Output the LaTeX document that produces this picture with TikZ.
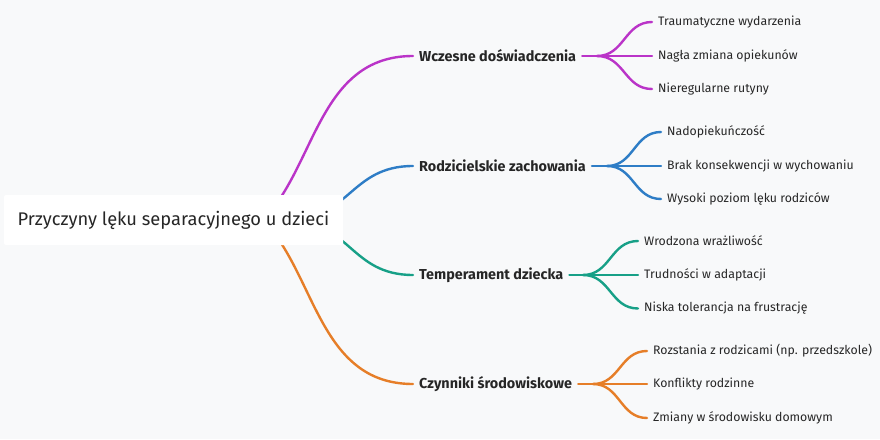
\documentclass[tikz,border=0pt]{standalone}
\usepackage{fontspec}
\setmainfont{Fira Sans}
\usetikzlibrary{calc}
\pgfdeclarelayer{background}
\pgfsetlayers{background,main}
\definecolor{bgc}{RGB}{248,249,250}
\definecolor{txt}{RGB}{38,38,38}
\definecolor{cpur}{RGB}{186,52,200}
\definecolor{cblu}{RGB}{46,125,198}
\definecolor{ctea}{RGB}{23,160,135}
\definecolor{cora}{RGB}{230,126,40}
\tikzset{
  hcurve/.style={to path={let \p1=(\tikztostart), \p2=(\tikztotarget) in
     .. controls ({(\x1+\x2)/2},\y1) and ({(\x1+\x2)/2},\y2) .. (\tikztotarget)}},
  link/.style={line width=2.4pt, line cap=round},
  rootbox/.style={fill=white, rounded corners=2pt, minimum width=339pt, minimum height=50pt,
     inner sep=0pt, font=\fontsize{18.3}{21}\selectfont, text=txt},
  branch/.style={anchor=west, inner xsep=6pt, inner ysep=2pt, font=\bfseries\fontsize{14.4}{17}\selectfont, text=txt},
  leaf/.style={anchor=west, inner xsep=6pt, inner ysep=2pt, font=\fontsize{12.3}{15}\selectfont, text=txt}
}
\begin{document}
\begin{tikzpicture}[x=1pt,y=-1pt]
\useasboundingbox (0,0) rectangle (880,439);

\node[rootbox] (root) at (173.5,220) {Przyczyny lęku separacyjnego u dzieci};

\node[branch] (b1) at (413,56) {Wczesne doświadczenia};
\node[branch] (b2) at (413,166) {Rodzicielskie zachowania};
\node[branch] (b3) at (413,275) {Temperament dziecka};
\node[branch] (b4) at (413,384) {Czynniki środowiskowe};

\coordinate (f1) at (597,56);
\coordinate (f2) at (607,166);
\coordinate (f3) at (583,275);
\coordinate (f4) at (593,384);

\node[leaf] (c11) at (652,22) {Traumatyczne wydarzenia};
\node[leaf] (c12) at (652,56) {Nagła zmiana opiekunów};
\node[leaf] (c13) at (652,89) {Nieregularne rutyny};
\node[leaf] (c21) at (661,132) {Nadopiekuńczość};
\node[leaf] (c22) at (661,166) {Brak konsekwencji w wychowaniu};
\node[leaf] (c23) at (661,199) {Wysoki poziom lęku rodziców};
\node[leaf] (c31) at (638,241) {Wrodzona wrażliwość};
\node[leaf] (c32) at (638,275) {Trudności w adaptacji};
\node[leaf] (c33) at (638,308.5) {Niska tolerancja na frustrację};
\node[leaf] (c41) at (647,351) {Rozstania z rodzicami (np. przedszkole)};
\node[leaf] (c42) at (647,384) {Konflikty rodzinne};
\node[leaf] (c43) at (647,418) {Zmiany w środowisku domowym};

\coordinate (r1) at (281,197);
\coordinate (r2) at (287,220);
\coordinate (r3) at (287,220);
\coordinate (r4) at (281,243);

\begin{pgfonlayer}{background}
\fill[bgc] (0,0) rectangle (880,439);
\draw[link,cpur] (r1) .. controls (318,140) and (330.5,56) .. (b1.west);
\draw[link,cblu] (r2) to[hcurve] (b2.west);
\draw[link,ctea] (r3) to[hcurve] (b3.west);
\draw[link,cora] (r4) .. controls (318,300) and (330.5,384) .. (b4.west);
\end{pgfonlayer}

\draw[link,cpur] (b1.east) -- (f1);
\draw[link,cpur] (f1) to[hcurve] (c11.west);
\draw[link,cpur] (f1) -- (c12.west);
\draw[link,cpur] (f1) to[hcurve] (c13.west);

\draw[link,cblu] (b2.east) -- (f2);
\draw[link,cblu] (f2) to[hcurve] (c21.west);
\draw[link,cblu] (f2) -- (c22.west);
\draw[link,cblu] (f2) to[hcurve] (c23.west);

\draw[link,ctea] (b3.east) -- (f3);
\draw[link,ctea] (f3) to[hcurve] (c31.west);
\draw[link,ctea] (f3) -- (c32.west);
\draw[link,ctea] (f3) to[hcurve] (c33.west);

\draw[link,cora] (b4.east) -- (f4);
\draw[link,cora] (f4) to[hcurve] (c41.west);
\draw[link,cora] (f4) -- (c42.west);
\draw[link,cora] (f4) to[hcurve] (c43.west);
\end{tikzpicture}
\end{document}
